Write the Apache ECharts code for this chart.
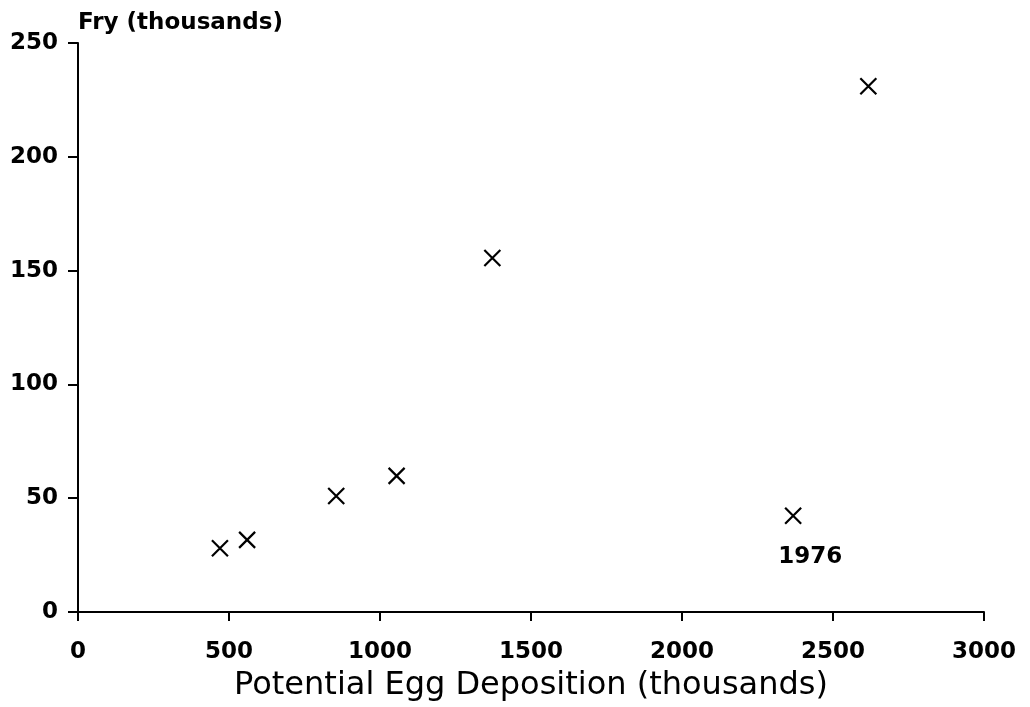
<!DOCTYPE html>
<html>
<head>
<meta charset="utf-8">
<script src="https://cdn.jsdelivr.net/npm/echarts@6/dist/echarts.min.js"></script>
<style>
  html, body { margin: 0; padding: 0; background: #fff; }
  #chart { width: 1030px; height: 707px; }
</style>
</head>
<body>
<div id="chart"></div>
<script>
// Potential egg deposition (thousands) vs. fry produced (thousands)
const eggDeposition = [470, 560, 855, 1055, 1372, 2368, 2617];
const fryCount      = [28, 31.7, 51, 59.8, 155.5, 42.3, 231];
const pointLabels   = ['', '', '', '', '', '1976', ''];

const xTicks = [0, 500, 1000, 1500, 2000, 2500, 3000];
const yTicks = [0, 50, 100, 150, 200, 250];

const FONT = '"DejaVu Sans", sans-serif';
const crossPath = 'path://M0,0L10,10M10,0L0,10';

const points = eggDeposition.map((x, i) => {
  const p = { value: [x, fryCount[i]] };
  if (pointLabels[i]) {
    p.label = {
      show: true,
      formatter: pointLabels[i],
      position: 'bottom',
      distance: 19,
      offset: [17, 0],
      fontFamily: FONT,
      fontWeight: 'bold',
      fontSize: 23,
      color: '#000'
    };
  }
  return p;
});

const chart = echarts.init(document.getElementById('chart'), null, { renderer: 'canvas' });
chart.setOption({
  animation: false,
  backgroundColor: '#ffffff',
  grid: { left: 78, right: 46, top: 43, bottom: 95, containLabel: false, outerBoundsMode: 'none' },
  xAxis: {
    type: 'value',
    min: xTicks[0],
    max: xTicks[xTicks.length - 1],
    interval: 500,
    name: 'Potential Egg Deposition (thousands)',
    nameLocation: 'middle',
    nameGap: 58,
    nameTextStyle: { fontFamily: FONT, fontSize: 32, color: '#000' },
    axisLine: { lineStyle: { color: '#000', width: 2 } },
    axisTick: { show: true, inside: false, length: 9, lineStyle: { color: '#000', width: 2 } },
    axisLabel: {
      margin: 29, fontFamily: FONT, fontWeight: 'bold', fontSize: 23, color: '#000',
      formatter: v => String(v)
    },
    splitLine: { show: false }
  },
  yAxis: {
    type: 'value',
    min: yTicks[0],
    max: yTicks[yTicks.length - 1],
    interval: 50,
    name: 'Fry (thousands)',
    nameLocation: 'end',
    nameGap: 20,
    nameTextStyle: {
      fontFamily: FONT, fontWeight: 'bold', fontSize: 23, color: '#000',
      align: 'left', verticalAlign: 'middle'
    },
    axisLine: { show: true, lineStyle: { color: '#000', width: 2 } },
    axisTick: { show: true, inside: false, length: 10, lineStyle: { color: '#000', width: 2 } },
    axisLabel: {
      margin: 20, fontFamily: FONT, fontWeight: 'bold', fontSize: 23, color: '#000',
      formatter: v => String(v)
    },
    splitLine: { show: false }
  },
  series: [{
    type: 'scatter',
    data: points,
    symbol: crossPath,
    symbolSize: 16,
    itemStyle: { color: 'none', borderColor: '#000', borderWidth: 2.2, opacity: 1 },
    label: { color: '#000' },
    emphasis: { disabled: true }
  }]
});
</script>
</body>
</html>
